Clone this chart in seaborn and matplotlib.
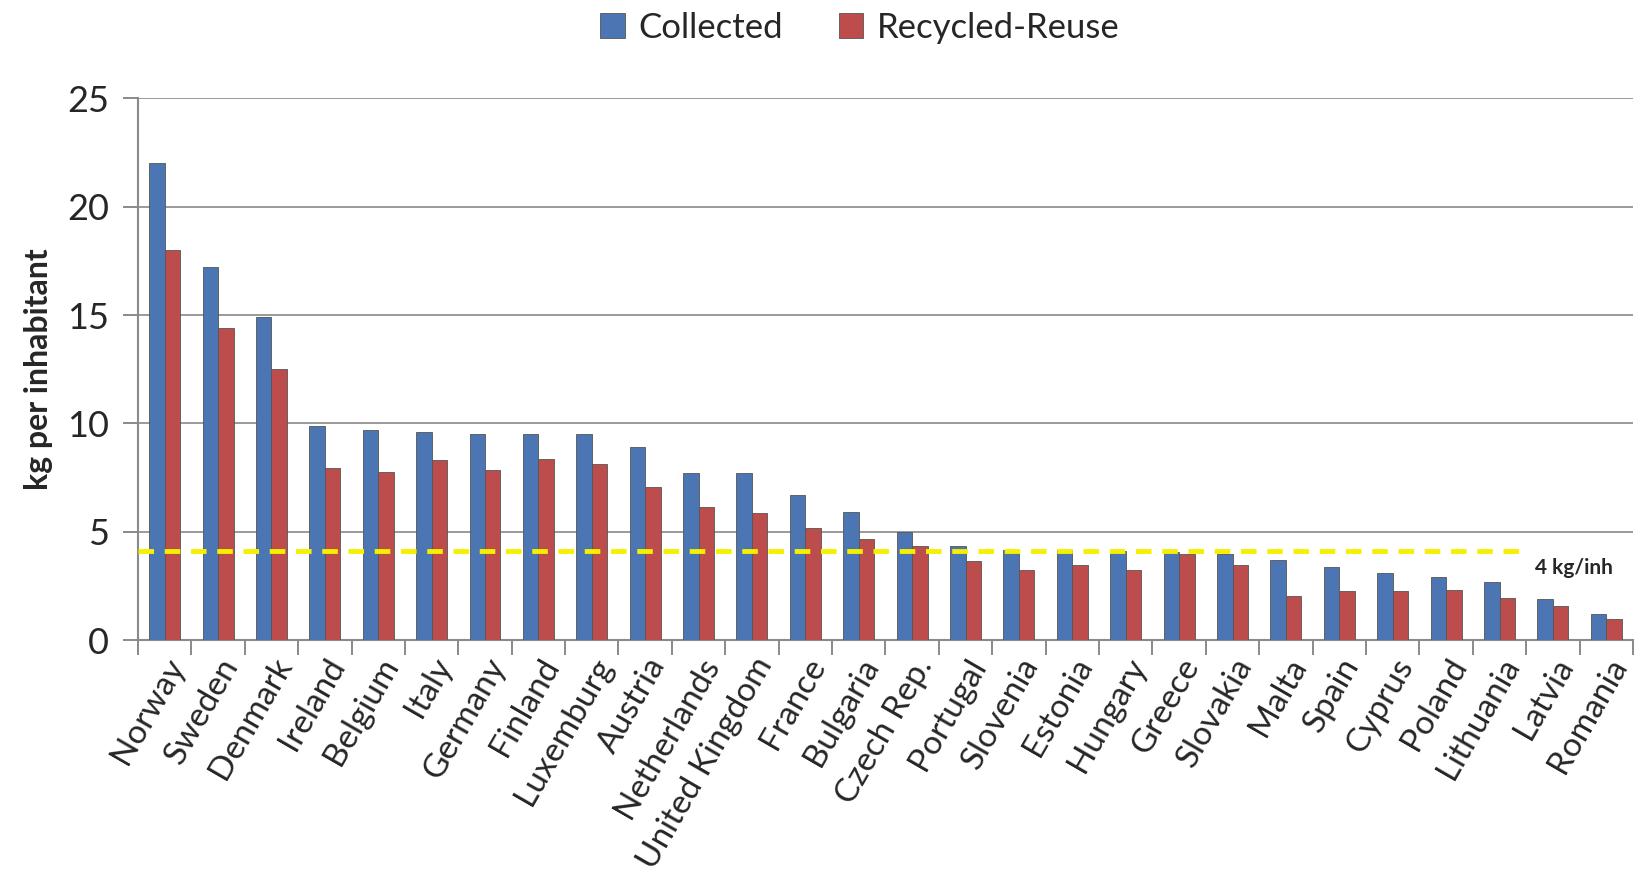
import seaborn as sns
import matplotlib.pyplot as plt
import pandas as pd
import numpy as np

# values (kg per inhabitant)
countries = ['Norway', 'Sweden', 'Denmark', 'Ireland', 'Belgium', 'Italy', 'Germany',
             'Finland', 'Luxemburg', 'Austria', 'Netherlands', 'United Kingdom', 'France',
             'Bulgaria', 'Czech Rep.', 'Portugal', 'Slovenia', 'Estonia', 'Hungary',
             'Greece', 'Slovakia', 'Malta', 'Spain', 'Cyprus', 'Poland', 'Lithuania',
             'Latvia', 'Romania']
collected = [22.0, 17.2, 14.9, 9.9, 9.7, 9.6, 9.5, 9.5, 9.5, 8.9, 7.7, 7.7, 6.7,
             5.9, 5.0, 4.35, 4.15, 4.15, 4.1, 4.05, 4.0, 3.7, 3.4, 3.1, 2.9, 2.7,
             1.9, 1.2]
recycled = [18.0, 14.4, 12.5, 7.95, 7.75, 8.3, 7.85, 8.35, 8.15, 7.05, 6.15, 5.85, 5.2,
            4.65, 4.35, 3.65, 3.25, 3.45, 3.25, 4.0, 3.45, 2.05, 2.25, 2.25, 2.3, 1.95,
            1.6, 1.0]
target = 4.1

df = pd.DataFrame({
    'country': countries * 2,
    'value': collected + recycled,
    'series': ['Collected'] * len(countries) + ['Recycled-Reuse'] * len(countries),
})

sns.set_style('white')
plt.rcParams['font.family'] = ['Lato', 'DejaVu Sans']

fig = plt.figure(figsize=(16.52, 8.93), dpi=100)
ax = fig.add_axes([0.0835, 0.283, 0.905, 0.607])

sns.barplot(data=df, x='country', y='value', hue='series',
            palette=['#3a72c4', '#d03a3a'], width=0.58, ax=ax,
            edgecolor='#555555', linewidth=0.6, zorder=3)

# threshold line
n = len(countries)
ax.plot([-0.5, n - 2.55], [target, target], color='#f5f000', lw=3.5,
        ls=(0, (3.2, 2.2)), zorder=4)
ax.text(n - 2.33, target - 0.75, '4 kg/inh', fontsize=15, fontweight='bold',
        ha='left', va='center')

ax.set_ylim(0, 25)
ax.set_xlim(-0.5, n - 0.5)
ax.set_yticks(range(0, 26, 5))
ax.yaxis.grid(True, color='#9a9a9a', lw=1.4, zorder=0)
ax.set_axisbelow(True)

for s in ['top', 'right']:
    ax.spines[s].set_visible(False)
for s in ['left', 'bottom']:
    ax.spines[s].set_color('#8a8a8a')
    ax.spines[s].set_linewidth(1.5)

ax.tick_params(axis='y', labelsize=26, length=11, color='#8a8a8a', width=1.4,
               left=True, pad=10)
ax.set_xticks(np.arange(-0.5, n, 1.0), minor=True)
ax.tick_params(axis='x', which='minor', length=11, color='#8a8a8a', width=1.4, bottom=True)
ax.tick_params(axis='x', which='major', length=0, labelsize=24, pad=9)
plt.setp(ax.get_xticklabels(), rotation=60, ha='right', rotation_mode='anchor')

ax.set_xlabel('')
ax.set_ylabel('kg per inhabitant', fontsize=23, fontweight='bold', labelpad=10)

ax.legend(loc='center', bbox_to_anchor=(0.483, 1.13), ncol=2, frameon=False,
          fontsize=25, handlelength=0.7, handleheight=0.7, columnspacing=1.6,
          handletextpad=0.4)

fig.savefig('out.png', dpi=100)
